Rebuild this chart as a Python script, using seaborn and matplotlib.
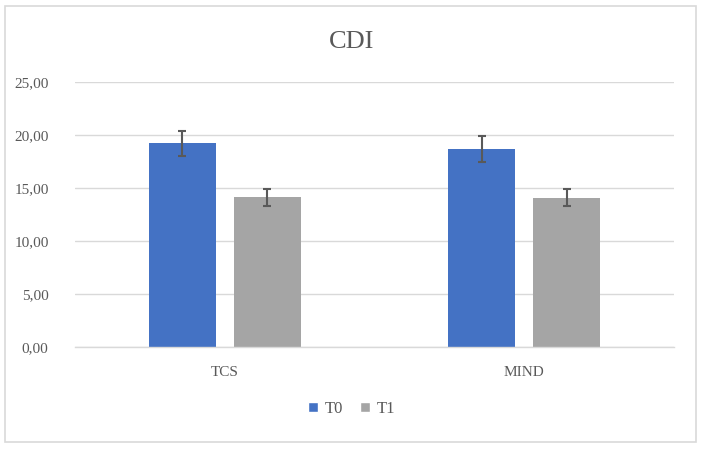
import matplotlib
matplotlib.use("Agg")
import matplotlib.pyplot as plt
from matplotlib.patches import Patch, Rectangle
from matplotlib.ticker import FuncFormatter
import seaborn as sns
import pandas as pd

groups = ["TCS", "TCS", "MIND", "MIND"]
times = ["T0", "T1", "T0", "T1"]
means = [19.2, 14.12, 18.65, 14.1]
errors = [1.15, 0.8, 1.23, 0.8]
colors = {"T0": "#4472C4", "T1": "#A5A5A5"}

df = pd.DataFrame({"group": groups, "time": times, "mean": means, "err": errors})

sns.set_style("white")
plt.rcParams["font.family"] = ["Liberation Serif", "DejaVu Serif"]
text_col = "#595959"

fig = plt.figure(figsize=(7.03, 4.51), dpi=100)
ax = fig.add_axes([75 / 703, 104 / 451, 599 / 703, 265 / 451])

sns.barplot(data=df, x="group", y="mean", hue="time", palette=colors,
            width=0.568, gap=0.211, errorbar=None, legend=False,
            saturation=1, ax=ax, linewidth=0)

# error bars at the centres of the drawn bars
for i, (name, sub) in enumerate(df.groupby("time", sort=False)):
    bars = ax.containers[i]
    xs = [b.get_x() + b.get_width() / 2 for b in bars]
    ax.errorbar(xs, sub["mean"], yerr=sub["err"], fmt="none",
                ecolor=text_col, elinewidth=1.5, capsize=3, capthick=1.5, zorder=3)

ax.set_xlim(-0.5, 1.5)
ax.set_ylim(0, 25)
ax.set_yticks([0, 5, 10, 15, 20, 25])
ax.yaxis.set_major_formatter(FuncFormatter(lambda v, p: f"{v:.2f}".replace(".", ",")))
ax.grid(axis="y", color="#D9D9D9", linewidth=1)
ax.set_axisbelow(True)
for s in ["top", "right", "left"]:
    ax.spines[s].set_visible(False)
ax.spines["bottom"].set_color("#D9D9D9")
ax.spines["bottom"].set_linewidth(1)
ax.set_xlabel("")
ax.set_ylabel("")
ax.tick_params(axis="y", length=0, pad=19, labelsize=11, labelcolor=text_col)
ax.tick_params(axis="x", length=0, pad=14, labelsize=11, labelcolor=text_col)

fig.text(0.5, 1 - 42 / 451, "CDI", ha="center", va="center", fontsize=19, color=text_col)

handles = [Patch(facecolor=colors[t], label=t) for t in ["T0", "T1"]]
fig.legend(handles=handles, loc="center", bbox_to_anchor=(0.5, 1 - 409 / 451), ncol=2,
           frameon=False, fontsize=12, labelcolor=text_col, handlelength=0.6,
           handleheight=0.6, handletextpad=0.4, columnspacing=1.0)

fig.add_artist(Rectangle((5 / 703, 9.5 / 451), 691 / 703, 436 / 451, transform=fig.transFigure,
                         fill=False, edgecolor="#D9D9D9", linewidth=1.2))

fig.savefig("out.png", dpi=100)
